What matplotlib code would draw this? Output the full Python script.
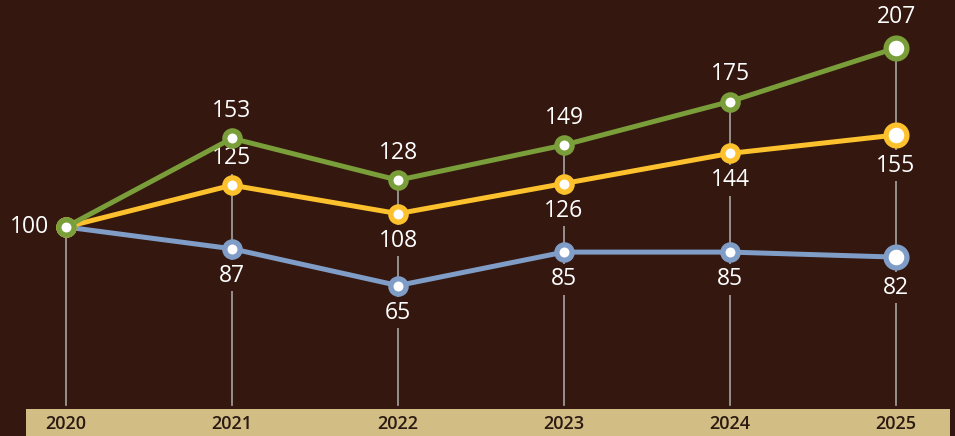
import numpy as np
import matplotlib.pyplot as plt
from matplotlib.patches import Rectangle

years = [2020, 2021, 2022, 2023, 2024, 2025]
green = [100, 153, 128, 149, 175, 207]
yellow = [100, 125, 108, 126, 144, 155]
blue = [100, 87, 65, 85, 85, 82]

# label side per point: +1 above, -1 below, 0 skip
green_side = [0, 1, 1, 1, 1, 1]
yellow_side = [0, 1, -1, -1, -1, -1]
blue_side = [0, -1, -1, -1, -1, -1]

bg = '#34170f'
band = '#d2bd85'
c_green = '#7a9e3a'
c_yellow = '#fcc12d'
c_blue = '#7f9dc6'

plt.rcParams['font.family'] = ['Open Sans', 'DejaVu Sans']

fig = plt.figure(figsize=(9.55, 4.36), dpi=100)
fig.patch.set_facecolor(bg)
ax = fig.add_axes([0, 0, 1, 1])
ax.set_facecolor(bg)
ax.set_xlim(2020 - 66 / 166, 2025 + 59 / 166)
ax.set_ylim(100 - 209 / 1.673, 100 + 227 / 1.673)
ax.axis('off')

# bottom band with year labels
ax.add_patch(Rectangle((26 / 955, 0), 924 / 955, 27 / 436, transform=ax.transAxes,
                       facecolor=band, edgecolor='none', zorder=0))
for yr in years:
    ax.text(yr, 0.45 * 27 / 436, str(yr), transform=ax.get_xaxis_transform(),
            ha='center', va='center', fontsize=13, fontweight='semibold',
            color='#2b1a12', zorder=1)

# vertical guides from top marker down to the band
y_bottom = 100 - 178 / 1.673
for i, yr in enumerate(years):
    top = max(green[i], yellow[i], blue[i])
    ax.plot([yr, yr], [y_bottom, top], color='#a8a4a2', lw=1.2, zorder=1)

for vals, col, sides in [(blue, c_blue, blue_side), (yellow, c_yellow, yellow_side),
                         (green, c_green, green_side)]:
    ax.plot(years, vals, color=col, lw=3.6, zorder=3, solid_capstyle='round')
    ax.plot(years[:-1], vals[:-1], 'o', ms=11, mfc='white', mec=col, mew=3.8, zorder=4)
    ax.plot(years[-1:], vals[-1:], 'o', ms=15, mfc='white', mec=col, mew=3.8, zorder=4)
    for i, (yr, v) in enumerate(zip(years, vals)):
        s = sides[i]
        if s == 0:
            continue
        off = 22 if i == len(years) - 1 else 19.5
        ax.annotate(str(v), (yr, v), xytext=(0, s * off), textcoords='offset points',
                    ha='center', va='center', fontsize=16.5, color='white', zorder=2,
                    bbox=dict(boxstyle='square,pad=0.15', fc=bg, ec='none'))

ax.annotate('100', (2020, 100), xytext=(-26, 0), textcoords='offset points',
            ha='center', va='center', fontsize=16.5, color='white', zorder=2)

fig.savefig('out.png', dpi=100, facecolor=bg)
